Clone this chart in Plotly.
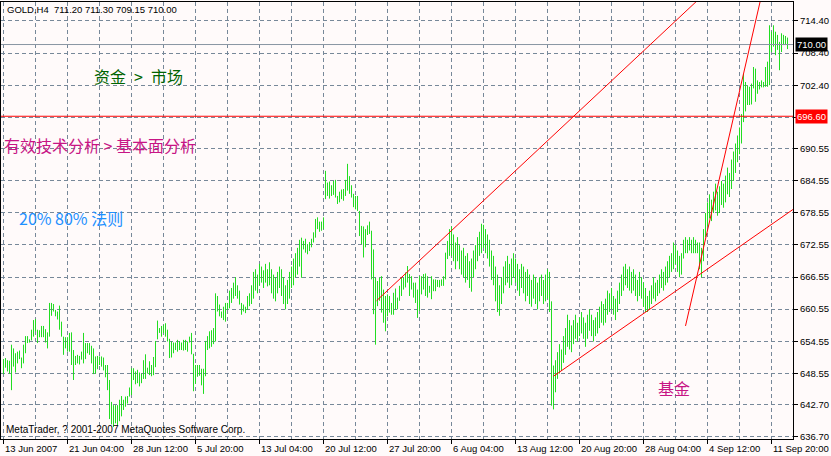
import plotly.graph_objects as go

# ---------------- data (bar index = H4 bar number from 13 Jun 2007) ----------------
highs = [
    651.2,651.4,651.0,650.9,653.9,653.2,652.3,652.6,652.8,651.5,
    653.9,655.5,655.5,654.9,656.7,658.5,658.7,656.7,656.6,657.4,
    657.4,656.8,656.2,661.7,661.7,661.5,660.4,660.1,661.2,658.2,
    655.4,655.3,655.3,656.1,656.2,652.9,651.8,652.0,651.8,652.6,
    656.1,654.2,654.2,654.2,653.7,653.2,651.7,651.8,651.7,651.7,
    651.5,650.1,650.1,647.3,643.2,642.6,642.6,642.6,643.6,644.3,
    643.6,644.2,644.3,645.9,649.5,649.5,648.9,649.2,648.7,648.5,
    651.0,652.1,649.6,650.8,650.1,651.6,654.6,658.4,657.0,657.4,
    657.6,657.9,656.7,655.0,654.5,654.3,654.3,654.8,654.5,654.3,
    654.8,654.8,654.5,655.4,656.1,652.2,650.1,650.1,650.1,649.4,
    649.4,654.6,655.5,656.4,656.6,657.0,663.5,663.0,661.4,660.1,
    661.0,661.7,661.7,664.0,664.5,665.5,666.5,665.0,664.0,661.7,
    661.4,661.0,663.0,663.5,665.0,667.5,668.0,667.0,669.0,668.5,
    667.8,669.0,668.0,669.3,668.0,667.0,666.5,667.5,668.5,668.0,
    666.5,665.0,666.0,667.5,668.5,670.0,671.0,672.0,673.5,673.9,
    673.3,673.7,672.7,673.1,673.7,674.9,677.4,677.7,676.9,676.9,
    677.7,686.4,684.2,684.4,683.7,684.5,684.7,681.7,682.5,682.9,
    683.0,684.7,687.7,685.4,683.7,682.1,681.7,681.7,678.9,676.1,
    676.0,675.5,676.2,676.9,675.2,671.7,666.4,665.8,666.4,666.7,
    664.2,663.0,663.3,663.0,661.7,663.6,664.4,662.7,664.9,666.4,
    666.4,667.4,668.6,667.1,666.7,665.5,665.5,664.2,666.7,666.7,
    667.1,667.2,666.7,664.9,666.7,666.1,666.1,666.0,666.0,666.1,
    666.7,671.1,673.3,675.5,676.0,674.5,673.0,674.0,672.5,671.5,
    672.0,670.5,671.0,669.5,670.0,671.5,672.5,674.0,675.0,676.5,
    676.3,675.5,674.5,673.5,671.5,670.5,668.5,667.0,665.0,666.5,
    668.5,669.5,670.5,669.0,670.0,671.0,670.0,669.0,668.0,669.0,
    668.5,667.5,668.0,667.0,666.0,667.0,666.5,665.5,666.5,667.0,
    666.0,667.0,668.0,667.5,662.0,650.0,651.0,652.5,654.0,653.0,
    655.5,657.0,659.5,658.5,657.5,658.5,659.5,658.0,659.0,660.0,
    659.0,658.0,659.5,660.5,659.5,658.5,659.0,660.0,661.0,662.0,
    661.5,662.5,664.0,663.5,664.5,663.0,662.5,664.0,665.5,667.0,
    668.5,669.0,668.0,668.5,667.5,668.0,667.0,666.0,667.5,666.5,
    665.5,664.5,663.0,664.0,665.0,666.5,665.5,666.0,667.0,668.0,
    667.5,668.5,669.5,670.5,671.0,673.0,672.5,671.5,670.5,671.0,
    673.5,674.0,673.5,674.0,673.5,674.0,673.5,673.0,673.0,672.0,
    675.5,678.5,680.5,682.0,681.0,682.5,684.0,682.5,683.5,684.5,
    684.0,685.5,687.0,686.0,688.5,690.0,691.5,693.0,694.5,697.0,
    704.5,703.0,702.4,702.1,702.7,705.8,705.5,703.3,703.0,703.3,
    703.0,705.8,706.8,713.6,712.4,713.6,712.4,711.8,710.5,712.1,
    711.8,711.6,711.3,
]
lows = [
    648.4,649.6,648.9,648.5,645.4,649.8,648.7,650.4,651.2,649.5,
    650.4,652.3,654.2,654.3,654.7,655.4,656.4,654.2,655.3,655.3,
    655.3,654.3,653.2,655.4,659.3,660.1,659.2,658.6,656.7,655.4,
    652.0,653.2,652.6,652.6,650.1,647.3,650.1,650.4,650.2,651.1,
    650.4,651.2,652.3,652.0,650.4,648.4,648.5,649.3,650.1,649.8,
    649.1,647.8,645.4,640.0,639.0,638.5,639.2,638.8,639.6,640.5,
    641.7,642.3,642.9,644.2,644.5,647.3,646.5,646.7,646.1,646.7,
    647.5,647.5,648.5,648.2,648.0,648.2,649.7,654.9,656.1,655.4,
    656.1,655.4,654.5,651.4,651.5,652.3,652.9,652.6,652.9,652.9,
    652.8,652.9,652.6,654.3,652.1,645.2,646.6,647.9,648.1,646.3,
    644.7,648.0,652.9,653.2,653.5,654.0,654.5,660.1,659.2,658.9,
    658.5,658.2,660.4,660.7,661.7,662.5,663.0,662.5,661.4,659.5,
    660.1,659.8,660.4,661.1,661.5,662.5,664.0,663.5,665.0,665.5,
    664.5,665.5,664.8,665.0,663.5,662.5,662.0,663.5,664.5,663.0,
    661.5,660.5,661.5,662.5,664.5,665.0,666.5,667.0,668.5,666.4,
    671.7,671.1,670.8,671.4,672.1,673.0,673.9,675.5,675.0,675.2,
    675.5,681.1,681.7,681.2,681.7,681.9,681.4,680.2,680.5,681.1,
    680.8,681.7,682.7,682.1,681.4,679.6,679.2,678.9,674.2,672.7,
    670.2,672.1,674.4,674.6,666.1,659.6,653.9,661.1,662.1,659.9,
    658.0,656.4,659.2,659.9,659.5,659.5,660.5,660.5,662.1,663.0,
    664.2,664.6,665.5,663.0,664.2,662.7,661.7,658.9,660.2,663.3,
    664.2,663.0,662.7,663.6,662.4,663.9,663.9,664.7,664.6,664.9,
    664.9,666.1,669.9,670.5,670.5,669.5,668.0,669.5,668.0,667.0,
    666.5,665.5,666.0,664.5,663.8,666.5,668.0,669.5,670.5,671.0,
    672.0,671.0,670.0,668.5,666.0,665.0,662.0,660.0,659.3,661.5,
    663.5,665.0,665.5,664.5,665.0,666.5,665.5,664.0,663.0,664.5,
    663.5,662.0,663.0,661.5,661.0,662.5,661.5,660.5,662.0,663.0,
    661.5,662.0,662.5,660.0,642.5,641.8,645.0,647.5,648.5,649.0,
    650.5,652.0,653.5,653.0,652.5,654.0,655.0,654.5,655.5,656.0,
    655.0,653.5,655.0,656.5,655.5,654.5,655.5,656.0,657.0,658.0,
    657.5,658.0,659.5,660.0,660.5,659.5,658.5,660.0,661.5,663.0,
    664.0,665.0,664.5,664.0,663.5,664.0,663.0,662.0,663.0,662.5,
    661.0,660.0,660.0,660.5,661.5,662.5,662.0,663.0,663.5,664.5,
    664.0,665.0,665.5,666.5,667.5,668.0,669.0,667.5,666.5,667.0,
    670.0,671.0,671.0,671.5,671.0,671.0,671.0,671.0,668.0,666.5,
    669.5,674.0,676.0,677.5,677.0,678.5,679.0,678.0,678.5,680.0,
    679.5,680.5,682.0,681.5,683.0,684.5,686.0,688.0,689.5,691.5,
    695.5,697.5,698.7,698.7,698.8,701.8,699.3,700.8,701.6,702.0,
    702.0,702.1,702.1,702.4,708.6,709.6,708.0,709.0,705.2,708.6,
    709.9,709.9,709.15,
]
bars = list(range(len(highs)))

time_tick_bars = [0, 32, 64, 96, 128, 160, 192, 224, 256, 288, 320, 352, 384]
time_tick_labels = ["13 Jun 2007", "21 Jun 04:00", "28 Jun 12:00", "5 Jul 20:00",
                    "13 Jul 04:00", "20 Jul 12:00", "27 Jul 20:00", "6 Aug 04:00",
                    "13 Aug 12:00", "20 Aug 20:00", "28 Aug 04:00", "4 Sep 12:00",
                    "11 Sep 20:00"]
time_grid_minor = [16, 48, 80, 112, 144, 176, 208, 240, 272, 304, 336, 368]

price_ticks = [636.70, 642.70, 648.55, 654.55, 660.55, 666.55, 672.55, 678.55,
               684.55, 690.55, 696.45, 702.40, 708.40, 714.40]
price_tick_labels = ["636.70", "642.70", "648.55", "654.55", "660.55", "666.55", "672.55",
                     "678.55", "684.55", "690.55", "", "702.40", "708.40", "714.40"]

# trend lines: (bar, price) endpoints
trend_lines = [
    ([186.5, 350.0], [662.1, 719.3]),
    ([275.0, 396.0], [648.0, 679.5]),
    ([341.0, 381.0], [657.4, 722.4]),
]
level_line = 696.60
bid_price = 710.00
header = "GOLD,H4  711.20 711.30 709.15 710.00"
copyright_text = "MetaTrader, ? 2001-2007 MetaQuotes Software Corp."
labels = [
    ("资金\u2002>\u2002市场", 45.0, 704.1, "#006400"),
    ("有效技术分析 > 基本面分析", 0.0, 691.2, "#C71585"),
    ("20% 80% 法则", 7.5, 677.6, "#1E90FF"),
    ("基金", 327.0, 645.8, "#C71585"),
]

# ---------------- figure ----------------
BG = "#FFFAFA"
GRID = "#778899"
FONT = "Liberation Sans"
CJK = "Noto Sans CJK SC"

fig = go.Figure()

xs, ys = [], []
for b, h, l in zip(bars, highs, lows):
    xs += [b, b, None]
    ys += [l, h, None]
fig.add_trace(go.Scatter(x=xs, y=ys, mode="lines", line=dict(color="#22DD22", width=1),
                         hoverinfo="skip", showlegend=False))

# horizontal lines
fig.add_trace(go.Scatter(x=[-2, 397], y=[bid_price, bid_price], mode="lines",
                         line=dict(color="#8A96A3", width=1), showlegend=False, hoverinfo="skip"))
fig.add_trace(go.Scatter(x=[-2, 397], y=[level_line, level_line], mode="lines",
                         line=dict(color="#FF0000", width=1.1), showlegend=False, hoverinfo="skip"))
for tx, ty in trend_lines:
    fig.add_trace(go.Scatter(x=tx, y=ty, mode="lines", line=dict(color="#FF0000", width=1),
                             showlegend=False, hoverinfo="skip"))

ann = []
for b, t in zip(time_tick_bars, time_tick_labels):
    ann.append(dict(x=b, xref="x", y=0, yref="paper", text=t, showarrow=False,
                    xanchor="left", yanchor="top", xshift=-1, yshift=-2,
                    font=dict(family=FONT, size=9.5, color="black")))
ann.append(dict(x=0, xref="paper", y=1, yref="paper", text=header, showarrow=False,
                xanchor="left", yanchor="top", xshift=4, yshift=0,
                font=dict(family=FONT, size=9.5, color="black")))
ann.append(dict(x=0, xref="paper", y=0, yref="paper", text=copyright_text, showarrow=False,
                xanchor="left", yanchor="bottom", xshift=3, yshift=2,
                font=dict(family=FONT, size=10, color="black")))
for t, bx, py, c in labels:
    ann.append(dict(x=bx, xref="x", y=py, yref="y", text=t, showarrow=False,
                    xanchor="left", yanchor="middle", xshift=-2,
                    font=dict(family=CJK, size=16, color=c)))
ann.append(dict(x=1, xref="paper", y=bid_price, yref="y", text="%.2f" % bid_price,
                showarrow=False, xanchor="left", yanchor="middle", xshift=2,
                bgcolor="black", borderpad=1, font=dict(family=FONT, size=9.5, color="white")))
ann.append(dict(x=1, xref="paper", y=level_line, yref="y", text="%.2f" % level_line,
                showarrow=False, xanchor="left", yanchor="middle", xshift=2,
                bgcolor="#FF0000", borderpad=1, font=dict(family=FONT, size=9.5, color="white")))

fig.update_layout(
    width=831, height=456,
    margin=dict(l=1, r=38, t=2, b=17),
    paper_bgcolor=BG, plot_bgcolor=BG,
    annotations=ann,
    showlegend=False,
    xaxis=dict(range=[-1.25, 394.75], showline=True, linecolor="black", linewidth=1, mirror=True,
               tickmode="array", tickvals=time_tick_bars, showticklabels=False,
               ticks="outside", ticklen=4, tickcolor="black",
               showgrid=True, gridcolor=GRID, griddash="4px,3px", gridwidth=1,
               minor=dict(tickmode="array", tickvals=time_grid_minor, showgrid=True,
                          gridcolor=GRID, griddash="4px,3px", gridwidth=1, ticks=""),
               zeroline=False, fixedrange=True),
    yaxis=dict(range=[636.27, 717.95], side="right", showline=True, linecolor="black",
               linewidth=1, mirror=True, tickmode="array", tickvals=price_ticks,
               ticktext=price_tick_labels, ticks="outside", ticklen=4, tickcolor="black",
               tickfont=dict(family=FONT, size=9.5, color="black"),
               showgrid=True, gridcolor=GRID, griddash="4px,3px", gridwidth=1,
               zeroline=False, fixedrange=True),
)

fig.write_html("out.html", config={"displayModeBar": False},
               post_script="document.body.style.margin='0';document.body.style.background='%s';" % BG)
